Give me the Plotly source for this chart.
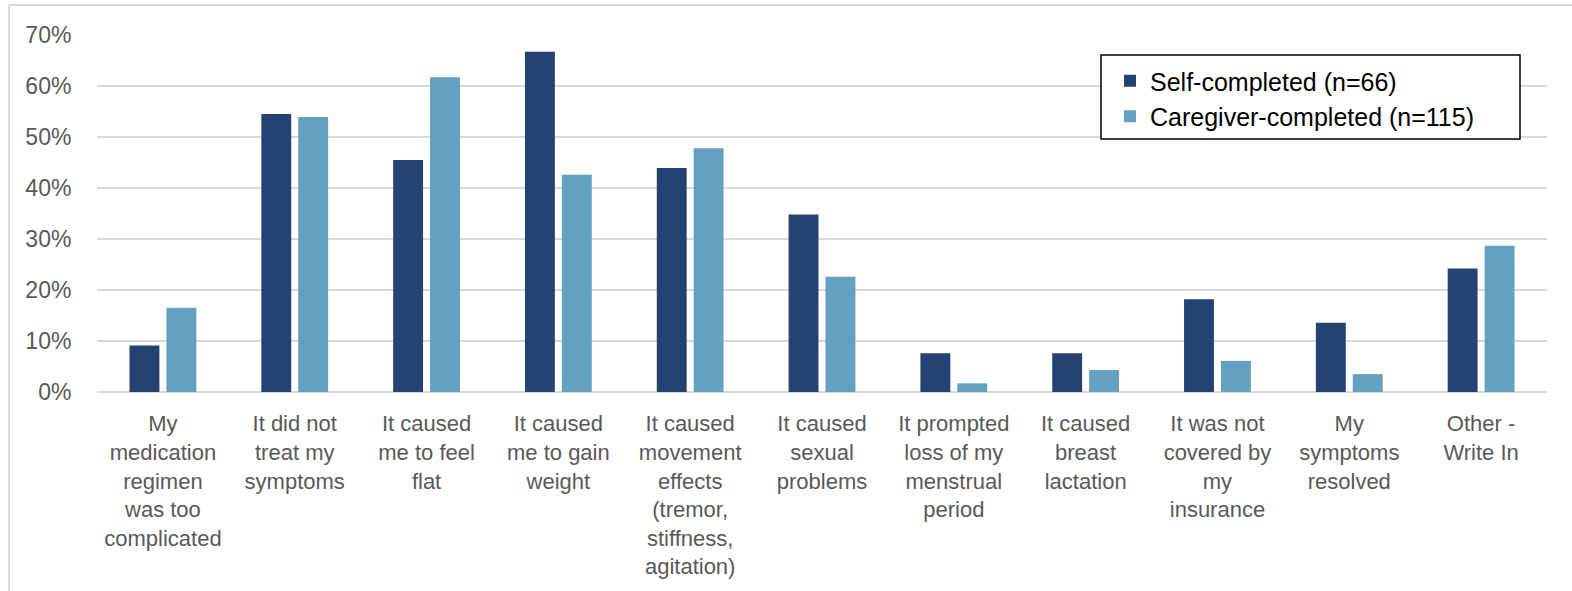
import plotly.graph_objects as go

categories = [
    "My<br>medication<br>regimen<br>was too<br>complicated",
    "It did not<br>treat my<br>symptoms",
    "It caused<br>me to feel<br>flat",
    "It caused<br>me to gain<br>weight",
    "It caused<br>movement<br>effects<br>(tremor,<br>stiffness,<br>agitation)",
    "It caused<br>sexual<br>problems",
    "It prompted<br>loss of my<br>menstrual<br>period",
    "It caused<br>breast<br>lactation",
    "It was not<br>covered by<br>my<br>insurance",
    "My<br>symptoms<br>resolved",
    "Other -<br>Write In",
]
self_completed = [0.091, 0.545, 0.455, 0.667, 0.439, 0.348, 0.076, 0.076, 0.182, 0.136, 0.242]
caregiver_completed = [0.165, 0.539, 0.617, 0.426, 0.478, 0.226, 0.017, 0.043, 0.061, 0.035, 0.287]
series_names = ["Self-completed (n=66)", "Caregiver-completed (n=115)"]
y_ticks = [0, 0.1, 0.2, 0.3, 0.4, 0.5, 0.6, 0.7]

W, H = 1572, 591
L, R, T, B = 97, 25, 35, 199
pw, ph = W - L - R, H - T - B
fx = lambda px: (px - L) / pw
fy = lambda py: (H - B - py) / ph

fig = go.Figure()
fig.add_trace(go.Bar(x=categories, y=self_completed, name=series_names[0],
                     marker=dict(color="#264273", line=dict(width=0))))
fig.add_trace(go.Bar(x=categories, y=caregiver_completed, name=series_names[1],
                     marker=dict(color="#64A0BF", line=dict(width=0))))

font = "Liberation Sans, Arial, sans-serif"
fig.update_layout(
    width=W, height=H,
    margin=dict(l=L, r=R, t=T, b=B),
    paper_bgcolor="white", plot_bgcolor="white",
    barmode="group", bargap=0.44, bargroupgap=0.19,
    font=dict(family=font, size=22, color="#595959"),
    showlegend=True,
    legend=dict(
        x=fx(1110), y=fy(58),
        xanchor="left", yanchor="top",
        bgcolor="rgba(0,0,0,0)", borderwidth=0,
        font=dict(family=font, size=25, color="#000000"),
        itemsizing="constant", tracegroupgap=0,
    ),
    xaxis=dict(showgrid=False, showline=False, ticks="outside", ticklen=12,
               tickcolor="rgba(0,0,0,0)", tickfont=dict(size=22, color="#595959"),
               tickangle=0),
    yaxis=dict(range=[0, 0.7], tickvals=y_ticks, tickformat=".0%",
               showgrid=True, gridcolor="#D9D9D9", gridwidth=2,
               zeroline=True, zerolinecolor="#D9D9D9", zerolinewidth=2,
               showline=False, ticks="outside", ticklen=20,
               tickcolor="rgba(0,0,0,0)", tickfont=dict(size=23, color="#595959")),
)

# legend frame
fig.add_shape(type="rect", xref="paper", yref="paper", layer="above",
              x0=fx(1101), x1=fx(1520), y0=fy(139), y1=fy(55),
              fillcolor="white", line=dict(color="black", width=1.5))
# outer frame (top and left edges)
fig.add_shape(type="line", xref="paper", yref="paper", x0=fx(9), x1=fx(W), y0=fy(5), y1=fy(5),
              line=dict(color="#D9D9D9", width=2))
fig.add_shape(type="line", xref="paper", yref="paper", x0=fx(9), x1=fx(9), y0=fy(5), y1=fy(H),
              line=dict(color="#D9D9D9", width=2))

fig.write_html("out.html", config={"displayModeBar": False},
               post_script="document.body.style.margin='0';document.body.style.overflow='hidden';")
